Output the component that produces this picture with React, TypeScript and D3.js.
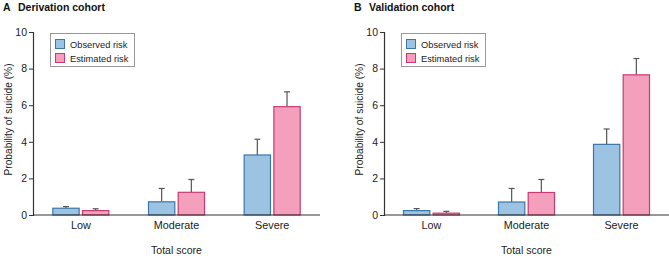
import React, { useEffect, useRef } from "react";
import * as d3 from "d3";

const categories = ["Low", "Moderate", "Severe"];
const seriesNames = ["Observed risk", "Estimated risk"];

// Derivation cohort (A)
const derivObserved = [0.37, 0.72, 3.28];
const derivObservedErr = [0.46, 1.45, 4.14];
const derivEstimated = [0.24, 1.24, 5.92];
const derivEstimatedErr = [0.34, 1.94, 6.73];

// Validation cohort (B)
const validObserved = [0.24, 0.71, 3.86];
const validObservedErr = [0.35, 1.45, 4.7];
const validEstimated = [0.1, 1.23, 7.66];
const validEstimatedErr = [0.2, 1.94, 8.55];

const yTicks = [0, 2, 4, 6, 8, 10];

const FILLS = ["#9dc3e2", "#f4a0bd"];
const STROKES = ["#3b77a8", "#c83a74"];
const FONT = "'Liberation Sans', Arial, sans-serif";

const panels = [
  {
    letter: "A",
    title: "Derivation cohort",
    x0: 33,
    x1: 320,
    values: [derivObserved, derivEstimated],
    errs: [derivObservedErr, derivEstimatedErr],
  },
  {
    letter: "B",
    title: "Validation cohort",
    x0: 384,
    x1: 669,
    values: [validObserved, validEstimated],
    errs: [validObservedErr, validEstimatedErr],
  },
];

export default function App() {
  const svgRef = useRef<SVGSVGElement>(null);

  useEffect(() => {
    if (!svgRef.current) return;
    const svg = d3.select(svgRef.current);
    svg.selectAll("*").remove();

    const yScale = d3.scaleLinear().domain([0, 10]).range([215, 32]);

    panels.forEach((p) => {
      const g = svg.append("g");

      // title
      g.append("text")
        .attr("x", p.x0 - 30)
        .attr("y", 11)
        .attr("font-family", FONT)
        .attr("font-weight", "bold")
        .attr("font-size", "10.5px")
        .attr("fill", "#111")
        .text(p.letter);
      g.append("text")
        .attr("x", p.x0 - 15)
        .attr("y", 11)
        .attr("font-family", FONT)
        .attr("font-weight", "bold")
        .attr("font-size", "10.5px")
        .attr("fill", "#111")
        .text(p.title);

      const xScale = d3
        .scaleBand<string>()
        .domain(categories)
        .range([p.x0, p.x1])
        .padding(0);

      const inner = d3
        .scaleBand<number>()
        .domain([0, 1])
        .range([-28.5, 28.5])
        .paddingInner(0.08);

      // bars
      p.values.forEach((vals, si) => {
        categories.forEach((c, ci) => {
          const cx = xScale(c)! + xScale.bandwidth() / 2;
          const bx = cx + inner(si)!;
          const bw = inner.bandwidth();
          // error bar
          g.append("line")
            .attr("x1", bx + bw / 2)
            .attr("x2", bx + bw / 2)
            .attr("y1", yScale(vals[ci]))
            .attr("y2", yScale(p.errs[si][ci]))
            .attr("stroke", "#555")
            .attr("stroke-width", 1.2);
          g.append("line")
            .attr("x1", bx + bw / 2 - 3)
            .attr("x2", bx + bw / 2 + 3)
            .attr("y1", yScale(p.errs[si][ci]))
            .attr("y2", yScale(p.errs[si][ci]))
            .attr("stroke", "#555")
            .attr("stroke-width", 1.2);
          g.append("rect")
            .attr("x", bx + 0.5)
            .attr("y", yScale(vals[ci]))
            .attr("width", bw - 1)
            .attr("height", yScale(0) - yScale(vals[ci]))
            .attr("fill", FILLS[si])
            .attr("stroke", STROKES[si])
            .attr("stroke-width", 1.2);
        });
      });

      // y axis
      const yAxis = g
        .append("g")
        .attr("transform", `translate(${p.x0},0)`)
        .call(d3.axisLeft(yScale).tickValues(yTicks).tickSize(4).tickPadding(2));
      yAxis.select(".domain").attr("stroke", "#333").attr("stroke-width", 1.2);
      yAxis.selectAll("line").attr("stroke", "#333");
      yAxis
        .selectAll("text")
        .attr("font-family", FONT)
        .attr("font-size", "10.5px")
        .attr("fill", "#222");

      // x axis line
      g.append("line")
        .attr("x1", p.x0)
        .attr("x2", p.x1)
        .attr("y1", yScale(0))
        .attr("y2", yScale(0))
        .attr("stroke", "#333")
        .attr("stroke-width", 1.2);

      // category labels
      categories.forEach((c) => {
        g.append("text")
          .attr("x", xScale(c)! + xScale.bandwidth() / 2)
          .attr("y", 229)
          .attr("text-anchor", "middle")
          .attr("font-family", FONT)
          .attr("font-size", "10.8px")
          .attr("fill", "#222")
          .text(c);
      });

      g.append("text")
        .attr("x", (p.x0 + p.x1) / 2)
        .attr("y", 254)
        .attr("text-anchor", "middle")
        .attr("font-family", FONT)
        .attr("font-size", "10.5px")
        .attr("fill", "#222")
        .text("Total score");

      g.append("text")
        .attr(
          "transform",
          `translate(${p.x0 - 21},${(yScale(0) + yScale(10)) / 2 - 4}) rotate(-90)`
        )
        .attr("text-anchor", "middle")
        .attr("font-family", FONT)
        .attr("font-size", "10.2px")
        .attr("fill", "#222")
        .text("Probability of suicide (%)");

      // legend
      const lg = g.append("g").attr("transform", `translate(${p.x0 + 17},33)`);
      lg.append("rect")
        .attr("x", 0.5)
        .attr("y", 0.5)
        .attr("width", 84)
        .attr("height", 33)
        .attr("fill", "#fff")
        .attr("stroke", "#999");
      seriesNames.forEach((s, i) => {
        lg.append("rect")
          .attr("x", 5.5)
          .attr("y", 6.5 + i * 14)
          .attr("width", 9)
          .attr("height", 9)
          .attr("fill", FILLS[i])
          .attr("stroke", STROKES[i]);
        lg.append("text")
          .attr("x", 20)
          .attr("y", 14.5 + i * 14)
          .attr("font-family", FONT)
          .attr("font-size", "9.3px")
          .attr("fill", "#222")
          .text(s);
      });
    });
  }, []);

  return (
    <div style={{ position: "absolute", left: 0, top: 0 }}>
      <svg ref={svgRef} width={669} height={256} style={{ display: "block", background: "#fff" }} />
    </div>
  );
}
